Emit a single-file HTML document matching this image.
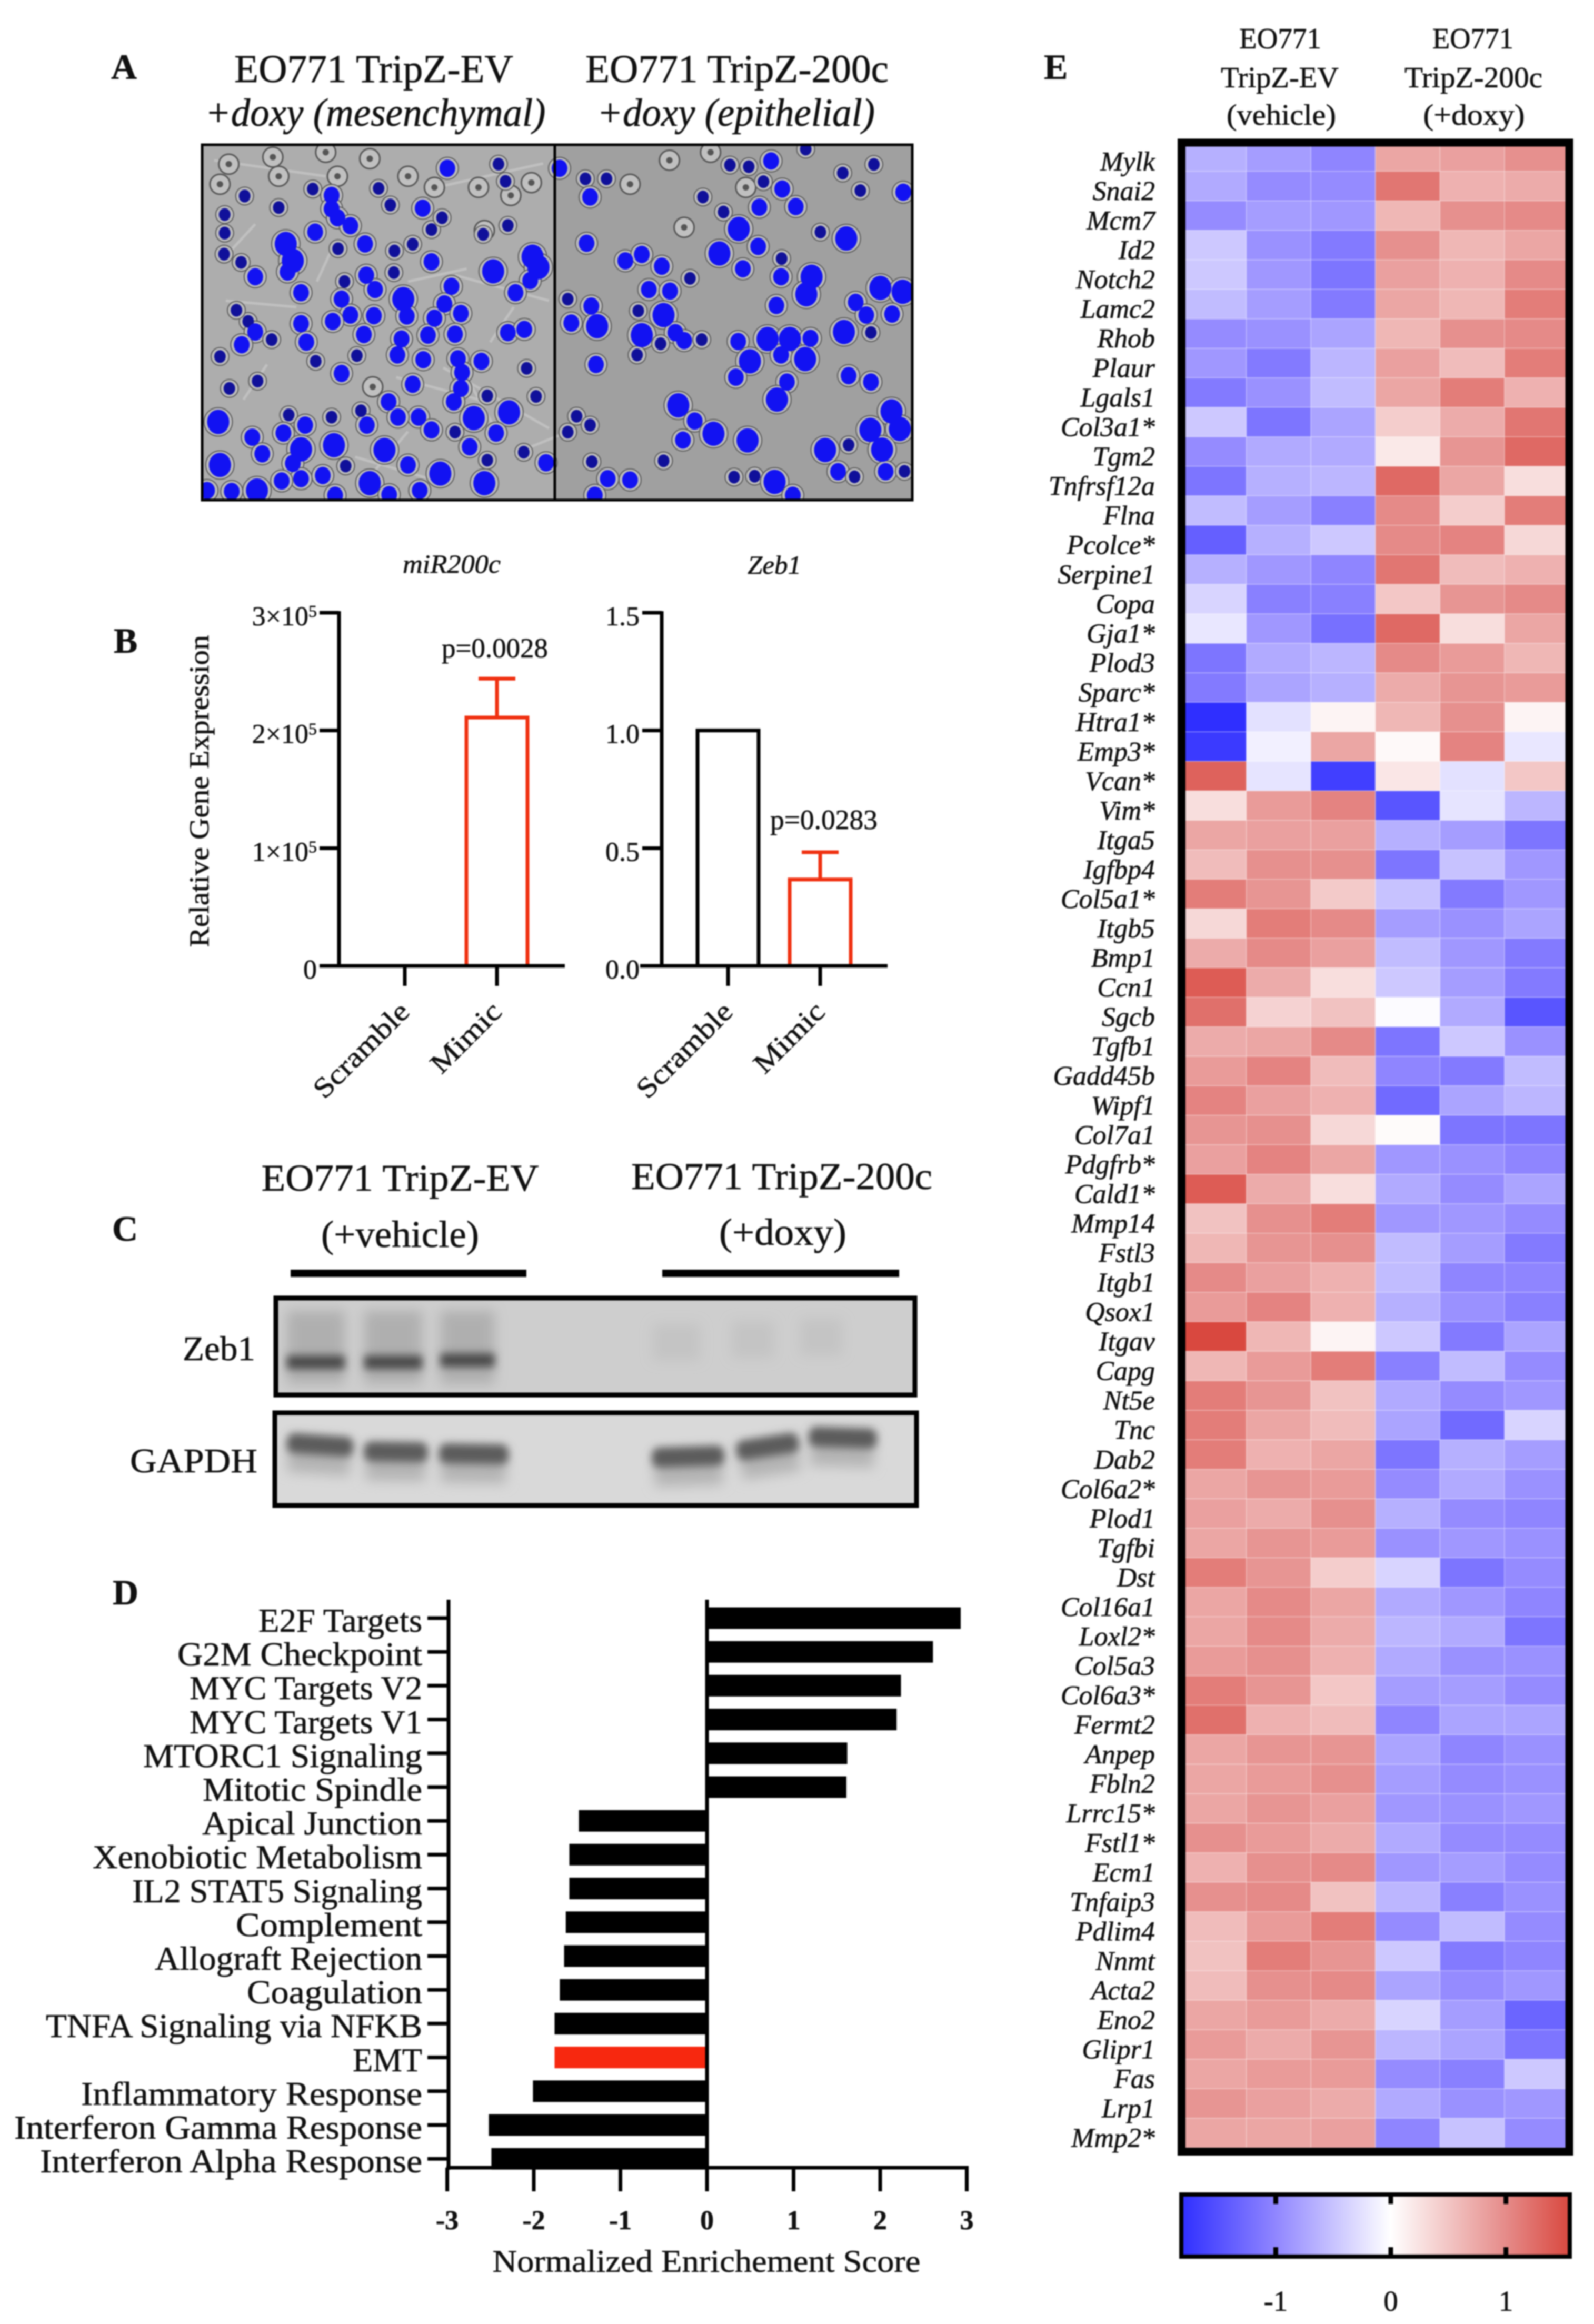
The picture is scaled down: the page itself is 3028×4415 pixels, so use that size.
<!DOCTYPE html>
<html lang="en">
<head>
<meta charset="utf-8">
<title>EO771 TripZ figure panels</title>
<style>
html,body{margin:0;padding:0;background:#fff;}
svg{display:block;filter:blur(1.3px);}
text{font-family:"Liberation Serif",serif;fill:#111;stroke:#111;stroke-width:.6px;}
.panel{font-weight:bold;font-size:68px;}
.cat{font-size:64px;text-anchor:end;}
</style>
</head>
<body>
<svg id="fig" xmlns="http://www.w3.org/2000/svg" width="3028" height="4415" viewBox="0 0 3028 4415">
<defs>
<filter id="b2" x="-20%" y="-20%" width="140%" height="140%"><feGaussianBlur stdDeviation="2"/></filter>
<filter id="b6" x="-30%" y="-80%" width="160%" height="260%"><feGaussianBlur stdDeviation="8"/></filter>
<filter id="b12" x="-30%" y="-60%" width="160%" height="220%"><feGaussianBlur stdDeviation="12"/></filter>
<clipPath id="heat-clip"><rect x="2252" y="278" width="723" height="3802"/></clipPath>
<clipPath id="photo-clip"><rect x="382" y="273" width="1353" height="679"/></clipPath>
<linearGradient id="cbar-grad" x1="0" x2="1" y1="0" y2="0">
<stop offset="0" stop-color="#2f2fff"/><stop offset="0.24" stop-color="#8f85ff"/><stop offset="0.539" stop-color="#ffffff"/><stop offset="0.838" stop-color="#e58a88"/><stop offset="1" stop-color="#d9483f"/>
</linearGradient>
</defs>
<rect width="3028" height="4415" fill="#fff"/>

<!-- Panel A -->
<text class="panel" x="211" y="150">A</text>
<text x="710" y="156" font-size="75" text-anchor="middle" textLength="530" lengthAdjust="spacingAndGlyphs">EO771 TripZ-EV</text>
<text x="713" y="239" font-size="75" font-style="italic" text-anchor="middle" textLength="647" lengthAdjust="spacingAndGlyphs">+doxy (mesenchymal)</text>
<text x="1400" y="156" font-size="75" text-anchor="middle" textLength="576" lengthAdjust="spacingAndGlyphs">EO771 TripZ-200c</text>
<text x="1398" y="239" font-size="75" font-style="italic" text-anchor="middle" textLength="528" lengthAdjust="spacingAndGlyphs">+doxy (epithelial)</text>
<g id="photo" clip-path="url(#photo-clip)">
<rect x="382" y="273" width="672" height="679" fill="#adadad"/>
<rect x="1054" y="273" width="681" height="679" fill="#a0a0a0"/>
</g>
<rect x="384" y="275" width="1349" height="675" fill="none" stroke="#000" stroke-width="5"/>
<line x1="1054" x2="1054" y1="273" y2="952" stroke="#000" stroke-width="5"/>

<!-- Panel B -->
<text class="panel" x="216" y="1240">B</text>
<text x="858" y="1088" font-size="50" font-style="italic" text-anchor="middle" textLength="186" lengthAdjust="spacingAndGlyphs">miR200c</text>
<text x="1471" y="1090" font-size="50" font-style="italic" text-anchor="middle" textLength="102" lengthAdjust="spacingAndGlyphs">Zeb1</text>
<text transform="translate(396,1503) rotate(-90)" font-size="53" text-anchor="middle" textLength="593" lengthAdjust="spacingAndGlyphs">Relative Gene Expression</text>
<g id="chart-mir"></g>
<g id="chart-zeb"></g>
<text x="940" y="1249" font-size="53" text-anchor="middle" textLength="202" lengthAdjust="spacingAndGlyphs">p=0.0028</text>
<text x="1565" y="1575" font-size="53" text-anchor="middle" textLength="204" lengthAdjust="spacingAndGlyphs">p=0.0283</text>

<!-- Panel C -->
<text class="panel" x="213" y="2357">C</text>
<text x="760" y="2262" font-size="72" text-anchor="middle" textLength="527" lengthAdjust="spacingAndGlyphs">EO771 TripZ-EV</text>
<text x="760" y="2369" font-size="72" text-anchor="middle" textLength="300" lengthAdjust="spacingAndGlyphs">(+vehicle)</text>
<text x="1485" y="2259" font-size="72" text-anchor="middle" textLength="572" lengthAdjust="spacingAndGlyphs">EO771 TripZ-200c</text>
<text x="1487" y="2365" font-size="72" text-anchor="middle" textLength="242" lengthAdjust="spacingAndGlyphs">(+doxy)</text>
<rect x="552" y="2412" width="448" height="14" fill="#000"/>
<rect x="1258" y="2412" width="450" height="14" fill="#000"/>
<text x="416" y="2584" font-size="66" text-anchor="middle" textLength="138" lengthAdjust="spacingAndGlyphs">Zeb1</text>
<text x="368" y="2797" font-size="66" text-anchor="middle" textLength="242" lengthAdjust="spacingAndGlyphs">GAPDH</text>
<g id="blot-zeb">
<rect x="520" y="2461" width="1222" height="194" fill="#cecece"/>
</g>
<g id="blot-gapdh">
<rect x="518" y="2679" width="1227" height="186" fill="#d9d9d9"/>
</g>
<rect x="524" y="2466" width="1214" height="184" fill="none" stroke="#000" stroke-width="9"/>
<rect x="522" y="2684" width="1219" height="176" fill="none" stroke="#000" stroke-width="9"/>

<!-- Panel D -->
<text class="panel" x="214" y="3048">D</text>
<g id="chart-gsea"></g>
<g>
<text class="cat" x="802" y="3100" textLength="311" lengthAdjust="spacingAndGlyphs">E2F Targets</text>
<text class="cat" x="802" y="3164" textLength="465" lengthAdjust="spacingAndGlyphs">G2M Checkpoint</text>
<text class="cat" x="802" y="3228" textLength="442" lengthAdjust="spacingAndGlyphs">MYC Targets V2</text>
<text class="cat" x="802" y="3293" textLength="442" lengthAdjust="spacingAndGlyphs">MYC Targets V1</text>
<text class="cat" x="802" y="3357" textLength="530" lengthAdjust="spacingAndGlyphs">MTORC1 Signaling</text>
<text class="cat" x="802" y="3421" textLength="417" lengthAdjust="spacingAndGlyphs">Mitotic Spindle</text>
<text class="cat" x="802" y="3485" textLength="418" lengthAdjust="spacingAndGlyphs">Apical Junction</text>
<text class="cat" x="802" y="3549" textLength="626" lengthAdjust="spacingAndGlyphs">Xenobiotic Metabolism</text>
<text class="cat" x="802" y="3614" textLength="551" lengthAdjust="spacingAndGlyphs">IL2 STAT5 Signaling</text>
<text class="cat" x="802" y="3678" textLength="354" lengthAdjust="spacingAndGlyphs">Complement</text>
<text class="cat" x="802" y="3742" textLength="508" lengthAdjust="spacingAndGlyphs">Allograft Rejection</text>
<text class="cat" x="802" y="3806" textLength="333" lengthAdjust="spacingAndGlyphs">Coagulation</text>
<text class="cat" x="802" y="3870" textLength="715" lengthAdjust="spacingAndGlyphs">TNFA Signaling via NFKB</text>
<text class="cat" x="802" y="3935" textLength="132" lengthAdjust="spacingAndGlyphs">EMT</text>
<text class="cat" x="802" y="3999" textLength="648" lengthAdjust="spacingAndGlyphs">Inflammatory Response</text>
<text class="cat" x="802" y="4063" textLength="775" lengthAdjust="spacingAndGlyphs">Interferon Gamma Response</text>
<text class="cat" x="802" y="4127" textLength="726" lengthAdjust="spacingAndGlyphs">Interferon Alpha Response</text>
</g>
<text x="1342" y="4316" font-size="60" text-anchor="middle" textLength="813" lengthAdjust="spacingAndGlyphs">Normalized Enrichement Score</text>

<!-- Panel E -->
<text class="panel" x="1983" y="150">E</text>
<text x="2432" y="92" font-size="56" text-anchor="middle" textLength="156" lengthAdjust="spacingAndGlyphs">EO771</text>
<text x="2431" y="166" font-size="56" text-anchor="middle" textLength="224" lengthAdjust="spacingAndGlyphs">TripZ-EV</text>
<text x="2434" y="237" font-size="56" text-anchor="middle" textLength="208" lengthAdjust="spacingAndGlyphs">(vehicle)</text>
<text x="2798" y="92" font-size="56" text-anchor="middle" textLength="154" lengthAdjust="spacingAndGlyphs">EO771</text>
<text x="2799" y="166" font-size="56" text-anchor="middle" textLength="262" lengthAdjust="spacingAndGlyphs">TripZ-200c</text>
<text x="2800" y="237" font-size="56" text-anchor="middle" textLength="193" lengthAdjust="spacingAndGlyphs">(+doxy)</text>
<g id="heat-cells" clip-path="url(#heat-clip)"></g>
<g id="heat-labels"></g>
<rect x="2244.5" y="271" width="736.5" height="3816.5" fill="none" stroke="#000" stroke-width="15"/>
<rect x="2244" y="4169" width="738" height="118" fill="url(#cbar-grad)" stroke="#000" stroke-width="8"/>
<g id="cbar-axis"></g>
</svg>

<script>
// ---------- Panel B data ----------
const barCategories = ['Scramble', 'Mimic'];
const mirMeans = [0, 211000];
const mirErrors = [0, 33000];
const mirTicks = [0, 100000, 200000, 300000];
const mirTickLabels = ['0', '1×10', '2×10', '3×10'];
const zebMeans = [1, 0.367];
const zebErrors = [0, 0.116];
const zebTicks = [0, 0.5, 1, 1.5];
const zebTickLabels = ['0.0', '0.5', '1.0', '1.5'];

// ---------- Panel D data ----------
const gseaCategories = ['E2F Targets','G2M Checkpoint','MYC Targets V2','MYC Targets V1','MTORC1 Signaling','Mitotic Spindle','Apical Junction','Xenobiotic Metabolism','IL2 STAT5 Signaling','Complement','Allograft Rejection','Coagulation','TNFA Signaling via NFKB','EMT','Inflammatory Response','Interferon Gamma Response','Interferon Alpha Response'];
const gseaScores = [2.93,2.61,2.24,2.19,1.62,1.61,-1.48,-1.59,-1.59,-1.63,-1.65,-1.70,-1.76,-1.76,-2.01,-2.52,-2.49];
const gseaTicks = [-3,-2,-1,0,1,2,3];

// ---------- Panel E data ----------
const heatGenes = ['Mylk','Snai2','Mcm7','Id2','Notch2','Lamc2','Rhob','Plaur','Lgals1','Col3a1*','Tgm2','Tnfrsf12a','Flna','Pcolce*','Serpine1','Copa','Gja1*','Plod3','Sparc*','Htra1*','Emp3*','Vcan*','Vim*','Itga5','Igfbp4','Col5a1*','Itgb5','Bmp1','Ccn1','Sgcb','Tgfb1','Gadd45b','Wipf1','Col7a1','Pdgfrb*','Cald1*','Mmp14','Fstl3','Itgb1','Qsox1','Itgav','Capg','Nt5e','Tnc','Dab2','Col6a2*','Plod1','Tgfbi','Dst','Col16a1','Loxl2*','Col5a3','Col6a3*','Fermt2','Anpep','Fbln2','Lrrc15*','Fstl1*','Ecm1','Tnfaip3','Pdlim4','Nnmt','Acta2','Eno2','Glipr1','Fas','Lrp1','Mmp2*'];
const heatValues = [
[-.65,-.8,-1,.8,.85,1],
[-.7,-.95,-.95,1.2,.7,.75],
[-.95,-.8,-.85,.65,1,1.05],
[-.45,-.9,-1.1,1,.65,.8],
[-.45,-.85,-1.15,.85,.7,1.05],
[-.55,-.8,-1.1,.8,.65,1.15],
[-.95,-.9,-.75,.65,1,1.05],
[-.85,-1.1,-.6,.85,.6,1.15],
[-1.1,-.9,-.55,.8,1.15,.7],
[-.45,-1.15,-.75,.45,.75,1.2],
[-.95,-.7,-.7,.2,.95,1.3],
[-1.15,-.65,-.6,1.3,.8,.3],
[-.55,-.8,-1.05,1.05,.45,1.15],
[-1.35,-.65,-.45,1.05,1.1,.35],
[-.65,-.85,-1,1.2,.6,.7],
[-.35,-1.05,-1.05,.5,.95,1.05],
[-.2,-.85,-1.2,1.3,.3,.8],
[-1.15,-.7,-.6,1.05,.9,.65],
[-1.1,-.75,-.65,.75,.95,.9],
[-1.8,-.25,.1,.65,1,.1],
[-1.7,-.12,.8,.05,1.1,-.2],
[1.35,-.22,-1.65,.22,-.25,.5],
[.3,.9,1.1,-1.45,-.22,-.6],
[.8,.85,.85,-.65,-.8,-1.15],
[.6,1,1,-1.15,-.5,-.85],
[1.15,.95,.48,-.5,-1.1,-.85],
[.35,1.15,1.05,-.8,-.9,-.75],
[.75,1.05,.85,-.55,-.85,-1.1],
[1.4,.75,.3,-.45,-.8,-1.1],
[1.25,.4,.55,-.03,-.7,-1.45],
[.75,.8,1.05,-1.15,-.45,-.9],
[.9,1.1,.6,-1,-1.1,-.55],
[1.1,.85,.7,-1.25,-.75,-.6],
[.95,1,.35,.04,-1.15,-1.15],
[.85,1.1,.8,-.85,-.9,-1],
[1.4,.75,.3,-.7,-.95,-.75],
[.55,1,1.15,-.85,-.85,-.95],
[.65,.95,1,-.55,-.8,-1.1],
[1.05,.85,.7,-.55,-1,-1],
[.9,1.1,.7,-.65,-.9,-1.05],
[1.6,.65,.1,-.45,-1.1,-.75],
[.65,.9,1.15,-1.05,-.55,-.95],
[1.15,.95,.55,-.7,-.95,-.85],
[1.15,.8,.6,-.75,-1.25,-.35],
[1.15,.7,.8,-1.15,-.65,-.8],
[.8,.95,.9,-.95,-.7,-.9],
[.85,.75,1,-.65,-.95,-1],
[.8,.95,.9,-.9,-.85,-.9],
[1.15,.95,.45,-.35,-1.15,-.95],
[.8,1.05,.8,-.7,-.85,-1],
[.8,1.05,.75,-.6,-.7,-1.15],
[.9,1,.7,-.7,-.9,-.9],
[1.15,.95,.5,-.8,-.8,-.95],
[1.25,.7,.6,-1,-.75,-.75],
[.8,.95,.95,-.75,-1,-.9],
[.8,.9,1,-.8,-.95,-.9],
[.8,.95,.85,-.85,-.9,-.85],
[1,.9,.75,-.7,-.95,-.95],
[.7,1,1.05,-.85,-.8,-.95],
[1,1.05,.55,-.6,-1.05,-.9],
[.6,.9,1.15,-.95,-.55,-.95],
[.55,1.15,.95,-.45,-1.1,-1],
[.6,1,1.05,-.75,-.95,-.85],
[.8,.9,.75,-.35,-.8,-1.3],
[.9,.75,.95,-.6,-.75,-1.15],
[.8,.9,.9,-.95,-1.05,-.45],
[.95,.85,.75,-.7,-.9,-.85],
[.8,.8,.85,-1,-.5,-.95]
];
const colorbarTicks = [-1, 0, 1];

// ---------- Panel A illustration: nuclei as seen in the micrograph (x, y in crop units, kind: 0 normal, 1 large, 2 dark) ----------
const nucleiMesenchymal = [[282,532,2],[398,510,2],[430,530,0],[430,572,0],[440,600,0],[462,625,0],[402,645,0],[600,637,2],[618,600,2],[585,570,0],[530,560,2],[510,508,2],[627,445,0],[714,432,2],[726,486,2],[340,568,2],[248,590,2],[248,648,2],[247,714,2],[276,740,2],[300,785,0],[352,682,1],[364,735,1],[355,770,0],[441,697,2],[487,682,0],[537,704,2],[568,683,2],[600,738,0],[536,772,2],[688,652,2],[730,624,2],[772,722,1],[782,755,1],[705,768,1],[768,797,0],[743,835,0],[634,815,0],[552,855,1],[378,835,0],[452,800,2],[489,780,0],[504,825,0],[447,855,0],[462,905,0],[502,907,0],[432,925,0],[558,908,0],[622,870,0],[605,915,0],[650,900,0],[378,932,0],[288,925,2],[300,958,0],[268,890,2],[328,982,2],[277,998,0],[240,1035,2],[387,990,0],[485,966,0],[549,980,0],[594,968,0],[640,965,0],[730,960,0],[758,950,0],[473,1032,2],[403,1050,2],[447,1088,0],[542,1030,0],[586,1045,0],[645,1042,0],[685,1050,0],[762,1072,2],[652,1085,0],[568,1122,0],[650,1135,0],[638,1177,0],[695,1158,2],[778,1160,2],[527,1177,0],[304,1112,2],[256,1135,2],[732,1210,1],[672,1228,1],[578,1225,0],[543,1225,0],[480,1205,2],[490,1250,0],[430,1225,2],[357,1218,2],[237,1240,1],[385,1250,0],[348,1275,0],[600,1265,0],[640,1272,2],[710,1275,0],[295,1288,0],[434,1313,1],[378,1326,1],[312,1340,0],[665,1318,0],[520,1328,1],[757,1335,2],[695,1360,2],[795,1368,0],[240,1375,1],[364,1370,0],[454,1378,2],[560,1375,0],[378,1418,0],[415,1408,0],[615,1402,1],[345,1425,0],[495,1432,1],[690,1432,1],[260,1458,0],[303,1455,1],[580,1455,0],[528,1468,0],[436,1470,0],[218,1455,0]];
const nucleiEpithelial = [[818,445,0],[898,478,2],[862,478,2],[870,535,0],[864,680,0],[930,735,0],[958,715,0],[992,752,0],[970,825,0],[1006,830,0],[1040,790,2],[1090,712,1],[1130,760,0],[1156,690,0],[1123,635,1],[1158,567,0],[1097,582,2],[1062,535,2],[1108,435,2],[1140,440,2],[1178,422,0],[1237,385,2],[1353,433,2],[1165,487,2],[1197,510,0],[1220,565,0],[1300,460,2],[1330,515,2],[1403,520,0],[1262,645,2],[1306,665,1],[1196,728,2],[1247,785,1],[1238,840,1],[1195,785,0],[1187,875,0],[1364,820,1],[1402,832,1],[1322,865,0],[1340,905,0],[1384,902,0],[1348,960,2],[1302,958,1],[832,855,2],[872,877,0],[838,930,0],[882,940,1],[952,892,2],[995,905,1],[1015,960,0],[958,968,1],[1030,985,0],[1060,982,2],[990,995,2],[950,1030,2],[880,1060,0],[1122,988,0],[1172,980,1],[1210,980,1],[1245,978,0],[1195,1030,0],[1142,1050,1],[1236,1043,1],[1118,1100,0],[1205,1115,0],[1188,1170,1],[1310,1095,0],[1348,1115,0],[1020,1188,1],[1048,1237,0],[1080,1277,1],[1028,1297,0],[1138,1298,1],[1383,1207,1],[847,1222,2],[870,1250,2],[832,1272,2],[1347,1265,1],[1397,1262,1],[1270,1328,1],[1310,1312,2],[1367,1327,1],[873,1365,2],[995,1362,2],[1292,1396,0],[1373,1396,0],[900,1418,0],[938,1422,0],[1115,1413,2],[1150,1410,2],[1184,1428,1],[878,1470,0],[1215,1470,0],[1320,1412,2],[1405,1395,2]];
const emptyCells = [[255,432],[330,410],[420,395],[495,415],[240,495],[340,470],[440,470],[680,505],[735,530],[770,490],[500,1130],[1005,420],[1030,630],[938,495],[1135,505],[1075,395],[560,470],[605,505],[690,640]];
const spindles = [[430,700,405,800],[620,1070,800,1260],[660,1100,720,1300],[560,1270,500,1400],[820,1280,740,1340],[320,1060,280,1170],[660,760,560,800],[250,860,370,880],[740,880,700,990],[470,1350,600,1420],[230,420,420,470],[620,500,790,430],[300,620,260,700],[640,780,800,860],[540,1100,700,1180]];
const gapdhBands = [[608,2745,126,4],[752,2758,121,1],[900,2762,132,1],[1307,2767,137,-2],[1458,2748,119,-9],[1601,2731,129,2]];
const zebBands = [[600,2588,110],[747,2588,110],[888,2584,103]];
const zebFaint = [[1285,2555,90],[1430,2550,80],[1560,2545,80]];

const NS = 'http://www.w3.org/2000/svg';
function mk(tag, attrs, parent, txt) {
  const el = document.createElementNS(NS, tag);
  for (const k in attrs) el.setAttribute(k, attrs[k]);
  if (txt !== undefined) el.textContent = txt;
  parent.appendChild(el);
  return el;
}

// ---------- Colour scale ----------
function lerp(a, b, t) { return a.map((v, i) => Math.round(v + (b[i] - v) * t)); }
function heatColor(v) {
  let c;
  if (v < -1) c = lerp([143,133,255], [47,47,255], Math.min(1, (-v - 1) / 0.8));
  else if (v < 0) c = lerp([255,255,255], [143,133,255], -v);
  else if (v < 1.05) c = lerp([255,255,255], [229,138,136], v / 1.05);
  else c = lerp([229,138,136], [217,72,63], Math.min(1, (v - 1.05) / 0.5));
  return 'rgb(' + c.join(',') + ')';
}

// ---------- Panel A ----------
(function () {
  const g = document.getElementById('photo');
  const px = x => 150 + x / 0.896;
  const py = y => 50 + y / 1.65;
  const rad = k => (k === 1 ? 21 : k === 2 ? 11 : 15);
  spindles.forEach(s => {
    const l = mk('line', {x1: px(s[0]), y1: py(s[1]), x2: px(s[2]), y2: py(s[3]), stroke: '#cdcdcd', 'stroke-width': 5, opacity: 0.6}, g);
    
    
  });
  emptyCells.forEach(c => {
    const o = mk('circle', {cx: px(c[0]), cy: py(c[1]), r: 19, fill: '#c0c0c0', stroke: '#555', 'stroke-width': 3}, g);
    
    
    const d = mk('circle', {cx: px(c[0]), cy: py(c[1]), r: 6, fill: '#555'}, g);
    
    
  });
  const all = nucleiMesenchymal.concat(nucleiEpithelial);
  all.forEach(n => {
    const halo = mk('circle', {cx: px(n[0]), cy: py(n[1]), r: rad(n[2]) + 6, fill: '#bcbcbc', stroke: '#5a5a5a', 'stroke-width': 2}, g);
    
    
  });
  all.forEach(n => {
    const fill = n[2] === 2 ? '#10109a' : '#1212f2';
    const dot = mk('ellipse', {cx: px(n[0]), cy: py(n[1]), rx: rad(n[2]), ry: rad(n[2]) * 1.1, fill: fill}, g);
    
    
  });
})();

// ---------- Panel B ----------
function drawBarChart(id, axisX, xLeft, xRight, firstCatX, means, errors, ticks, labels, maxVal, showExp, colors) {
  const g = document.getElementById(id);
  const y0 = 1835, yTop = 1164;
  const y = v => y0 - (v / maxVal) * (y0 - yTop);
  const x = i => firstCatX + 175 * i;
  const halfW = 58;
  means.forEach((m, i) => {
    const col = colors[i];
    if (m > 0) {
      const bar = mk('rect', {x: x(i) - halfW, y: y(m), width: halfW * 2, height: y0 - y(m), fill: 'none', stroke: col, 'stroke-width': 7}, g);
      
      
    }
    if (errors[i] > 0) {
      const eb = mk('line', {x1: x(i), x2: x(i), y1: y(m), y2: y(m + errors[i]), stroke: col, 'stroke-width': 7}, g);
      
      
      const cap = mk('line', {x1: x(i) - 35, x2: x(i) + 35, y1: y(m + errors[i]), y2: y(m + errors[i]), stroke: col, 'stroke-width': 7}, g);
      
      
    }
    const t = mk('line', {x1: x(i), x2: x(i), y1: y0, y2: 1873, stroke: '#000', 'stroke-width': 7}, g);
    
    
    const ex = x(i) + 12, ey = 1925;
    const lab = mk('text', {x: ex, y: ey, 'font-size': 54, 'text-anchor': 'end', textLength: i === 0 ? 233 : 166, lengthAdjust: 'spacingAndGlyphs', transform: 'rotate(-45 ' + ex + ' ' + ey + ')'}, g, barCategories[i]);
    
    
  });
  const ya = mk('line', {x1: axisX, x2: axisX, y1: yTop - 3, y2: y0 + 3, stroke: '#000', 'stroke-width': 7}, g);
  
  
  const xa = mk('line', {x1: xLeft, x2: xRight, y1: y0, y2: y0, stroke: '#000', 'stroke-width': 7}, g);
  
  
  ticks.forEach((v, i) => {
    const t = mk('line', {x1: axisX - 37, x2: axisX, y1: y(v), y2: y(v), stroke: '#000', 'stroke-width': 7}, g);
    
    
    const lab = mk('text', {x: axisX - 42, y: y(v) + 24, 'font-size': 52, 'text-anchor': 'end'}, g);
    
    
    lab.textContent = labels[i];
    if (showExp && v !== 0) {
      const sup = mk('tspan', {'font-size': 32, dy: -16}, lab, '5');
      
      
    }
  });
}
drawBarChart('chart-mir', 644, 607, 1073, 769, mirMeans, mirErrors, mirTicks, mirTickLabels, 300000, true, ['#000', '#f03010']);
drawBarChart('chart-zeb', 1257, 1216, 1686, 1383, zebMeans, zebErrors, zebTicks, zebTickLabels, 1.5, false, ['#000', '#f03010']);

// ---------- Panel C ----------
(function () {
  const z = document.getElementById('blot-zeb');
  zebFaint.forEach(b => {
    const f = mk('rect', {x: b[0] - b[2] / 2, y: b[1] - 40, width: b[2], height: 70, fill: '#c0c0c0', opacity: 0.7, filter: 'url(#b12)'}, z);
    
    
  });
  zebBands.forEach(b => {
    const smear = mk('rect', {x: b[0] - b[2] / 2, y: 2490, width: b[2], height: 140, fill: '#a8a8a8', opacity: 0.8, filter: 'url(#b12)'}, z);
    
    
  });
  zebBands.forEach(b => {
    const band = mk('rect', {x: b[0] - b[2] / 2, y: b[1] - 13, width: b[2], height: 26, fill: '#4a4a4a', filter: 'url(#b6)'}, z);
    
    
  });
  const g = document.getElementById('blot-gapdh');
  gapdhBands.forEach(b => {
    const tail = mk('rect', {x: b[0] - b[2] / 2 + 4, y: b[1], width: b[2] - 8, height: 55, fill: '#b4b4b4', filter: 'url(#b12)', transform: 'rotate(' + b[3] + ' ' + b[0] + ' ' + b[1] + ')'}, g);
    
    
  });
  gapdhBands.forEach(b => {
    const band = mk('rect', {x: b[0] - b[2] / 2, y: b[1] - 19, width: b[2], height: 38, rx: 14, fill: '#5c5c5c', filter: 'url(#b6)', transform: 'rotate(' + b[3] + ' ' + b[0] + ' ' + b[1] + ')'}, g);
    
    
  });
})();

// ---------- Panel D ----------
(function () {
  const g = document.getElementById('chart-gsea');
  const x = v => 1343 + v * 164.5;
  const y = i => 3074 + i * 64.2;
  gseaCategories.forEach((c, i) => {
    const v = gseaScores[i];
    const bar = mk('rect', {x: Math.min(x(0), x(v)), y: y(i) - 20.5, width: Math.abs(x(v) - x(0)), height: 41, fill: c === 'EMT' ? '#f7280f' : '#000'}, g);
    
    
    const t = mk('line', {x1: 812, x2: 852, y1: y(i), y2: y(i), stroke: '#000', 'stroke-width': 7}, g);
    
    
  });
  const ya = mk('line', {x1: 852, x2: 852, y1: 3039, y2: 4122, stroke: '#000', 'stroke-width': 7}, g);
  
  
  const zero = mk('line', {x1: x(0), x2: x(0), y1: 3039, y2: 4122, stroke: '#000', 'stroke-width': 7}, g);
  
  
  const xa = mk('line', {x1: 848, x2: 1840, y1: 4118, y2: 4118, stroke: '#000', 'stroke-width': 7}, g);
  
  
  gseaTicks.forEach(v => {
    const t = mk('line', {x1: x(v), x2: x(v), y1: 4118, y2: 4163, stroke: '#000', 'stroke-width': 7}, g);
    
    
    const lab = mk('text', {x: x(v), y: 4235, 'font-size': 52, 'font-weight': 'bold', 'text-anchor': 'middle'}, g, String(v));
    
    
  });
})();

// ---------- Panel E ----------
(function () {
  const cells = document.getElementById('heat-cells');
  const labels = document.getElementById('heat-labels');
  const colX = j => 2245 + 122.6 * j;
  const rowY = i => 269.5 + 56.04 * i;
  heatValues.forEach((row, i) => {
    row.forEach((v, j) => {
      const cell = mk('rect', {x: colX(j), y: rowY(i), width: 122.6, height: 56.04, fill: heatColor(v), stroke: 'rgba(255,255,255,0.22)', 'stroke-width': 2}, cells);
      
      
    });
    const lab = mk('text', {x: 2194, y: rowY(i) + 54.5, 'font-size': 52, 'font-style': 'italic', 'text-anchor': 'end'}, labels, heatGenes[i]);
    
    
  });
  const axis = document.getElementById('cbar-axis');
  const cx = v => 2642 + 218.6 * v;
  colorbarTicks.forEach(v => {
    const top = mk('rect', {x: cx(v) - 4.5, y: 4169, width: 9, height: 18, fill: '#000'}, axis);
    
    
    const bot = mk('rect', {x: cx(v) - 4.5, y: 4269, width: 9, height: 18, fill: '#000'}, axis);
    
    
    const lab = mk('text', {x: cx(v), y: 4390, 'font-size': 55, 'text-anchor': 'middle'}, axis, String(v));
    
    
  });
})();
</script>
</body>
</html>
